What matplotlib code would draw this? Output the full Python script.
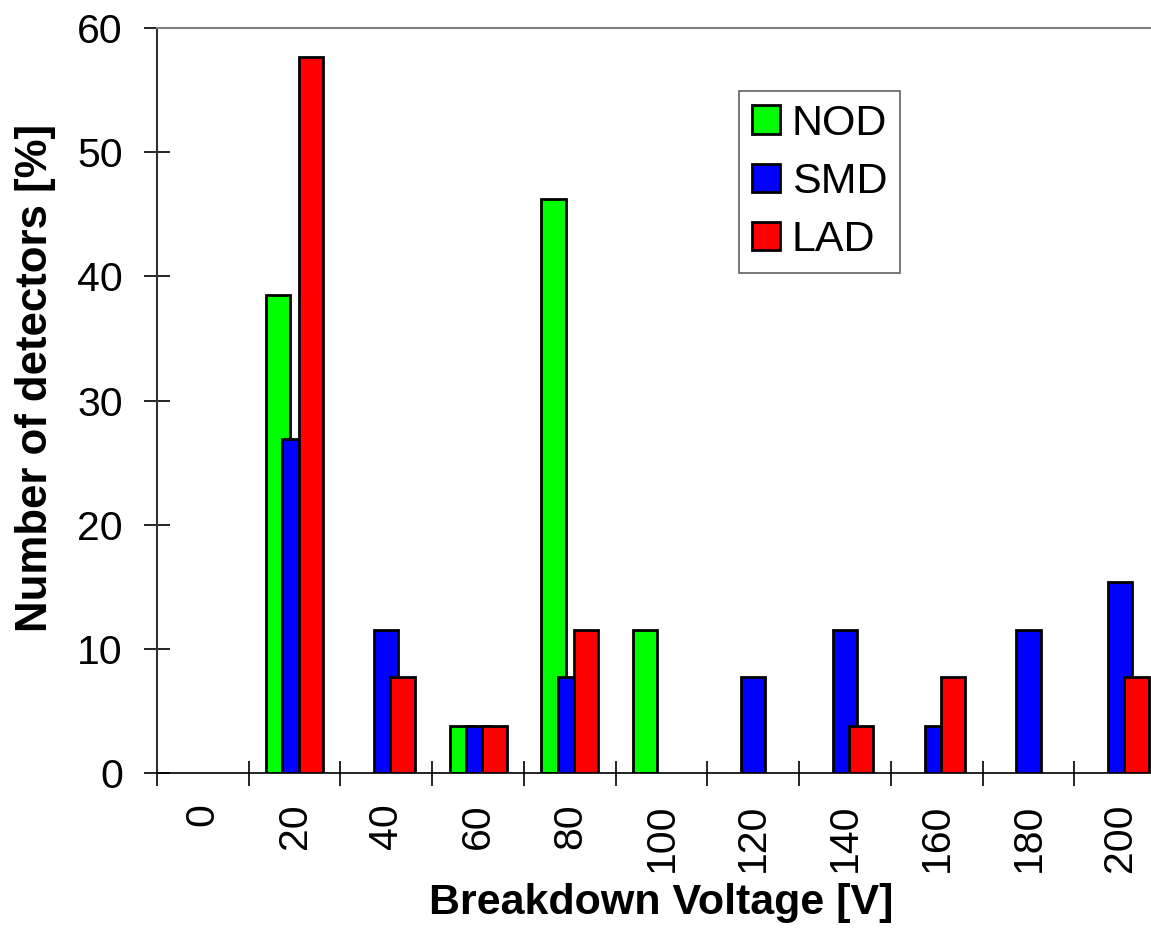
import numpy as np
import matplotlib
matplotlib.use("Agg")
import matplotlib.pyplot as plt
from matplotlib.patches import Patch

plt.rcParams['font.family'] = ['Liberation Sans', 'DejaVu Sans']

# breakdown voltage bins and percentage of detectors per type
voltages = ['0', '20', '40', '60', '80', '100', '120', '140', '160', '180', '200']
nod = [0, 38.5, 0, 3.8, 46.2, 11.5, 0, 0, 0, 0, 0]
smd = [0, 26.9, 11.5, 3.8, 7.7, 0, 7.7, 11.5, 3.8, 11.5, 15.4]
lad = [0, 57.7, 7.7, 3.8, 11.5, 0, 0, 3.8, 7.7, 0, 7.7]

series = [('NOD', nod, '#00ff00'), ('SMD', smd, '#0000ff'), ('LAD', lad, '#ff0000')]

fig = plt.figure(figsize=(11.51, 9.44), dpi=100)
ax = fig.add_axes([157 / 1151, 1 - 773 / 944, 1009 / 1151, 745 / 944])

x = np.arange(len(voltages))
width = 0.265
step = 0.178
handles = []
for i, (name, vals, col) in enumerate(series):
    bars = ax.bar(x + (i - 1) * step, vals, width, color=col, edgecolor='black',
                  linewidth=2, zorder=2 + i)
    # empty bins show nothing
    for b, v in zip(bars, vals):
        if v == 0:
            b.set_visible(False)
    handles.append(Patch(facecolor=col, edgecolor='black', linewidth=2, label=name))

ax.set_xlim(-0.5, len(voltages) - 0.5)
ax.set_ylim(0, 60)
ax.set_yticks(range(0, 61, 10))
ax.set_xticks(x)
ax.set_xticklabels(voltages, rotation=90)
ax.set_xticks(np.arange(-0.5, len(voltages), 1), minor=True)

ax.tick_params(axis='y', direction='inout', length=19, width=1.2, pad=15,
               labelsize=29.5)
ax.tick_params(axis='x', which='major', length=0, pad=22, labelsize=29.5)
ax.tick_params(axis='x', which='minor', direction='inout', length=18, width=1.2)

ax.spines['top'].set_color('#808080')
ax.spines['top'].set_linewidth(1.5)
ax.spines['left'].set_color('#303030')
ax.spines['left'].set_linewidth(1.5)
ax.spines['bottom'].set_color('black')
ax.spines['bottom'].set_linewidth(1.2)
ax.spines['right'].set_visible(False)

ax.set_xlabel('Breakdown Voltage [V]', fontsize=31, fontweight='bold', labelpad=8)
ax.set_ylabel('Number of detectors [%]', fontsize=31.5, fontweight='bold')
ax.yaxis.set_label_coords(-0.1, 0.53)

leg = ax.legend(handles=handles, loc='upper left',
                bbox_to_anchor=(739 / 1151, 1 - 91 / 944),
                bbox_transform=fig.transFigure, borderaxespad=0, fontsize=31,
                fancybox=False, edgecolor='#606060', framealpha=1,
                handlelength=0.65, handleheight=0.65, handletextpad=0.28,
                labelspacing=0.42, borderpad=0.3)
leg.get_frame().set_linewidth(1.2)

fig.savefig('out.png', dpi=100)
